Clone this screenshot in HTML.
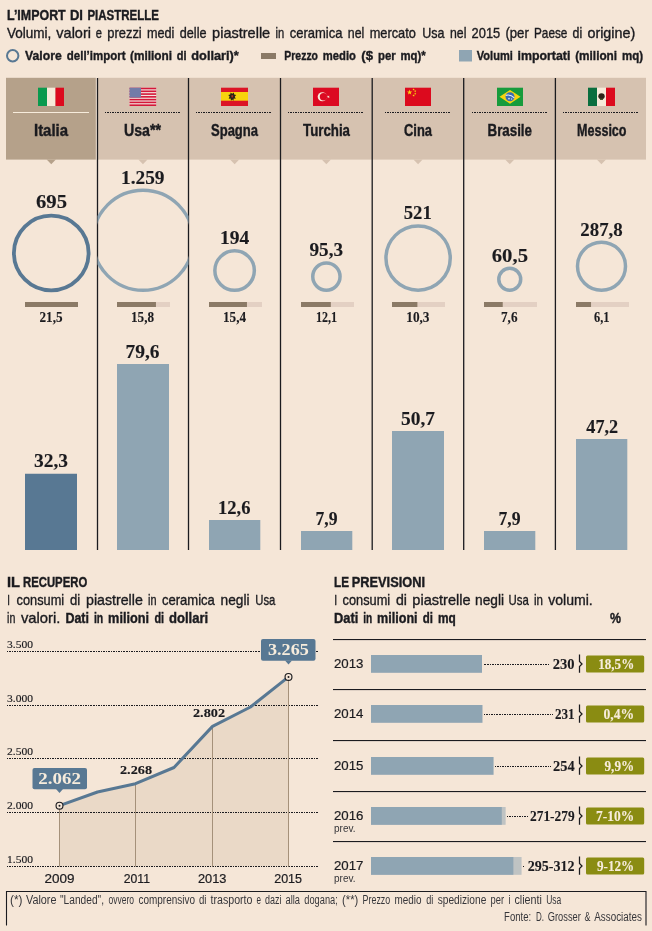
<!DOCTYPE html>
<html lang="it"><head><meta charset="utf-8"><title>L’import di piastrelle</title>
<style>
html,body{margin:0;padding:0;background:#f5e6d7;}
svg{display:block}
.sn{font-family:"Liberation Sans", Arial, sans-serif;font-weight:400}
.sb{font-family:"Liberation Sans", Arial, sans-serif;font-weight:700}
.rn{font-family:"Liberation Serif", "Times New Roman", serif;font-weight:400}
.rb{font-family:"Liberation Serif", "Times New Roman", serif;font-weight:700}
</style></head><body>
<svg width="652" height="931" viewBox="0 0 652 931">
<rect width="652" height="931" fill="#f5e6d7"/>
<text y="20.00" font-size="14.3" fill="#1b1b1f" stroke="#1b1b1f"><tspan class="sb" x="7.00" stroke-width="0.4" textLength="58.70" lengthAdjust="spacingAndGlyphs">L’IMPORT</tspan> <tspan class="sb" x="69.90" stroke-width="0.4" textLength="13.00" lengthAdjust="spacingAndGlyphs">DI</tspan> <tspan class="sb" x="87.40" stroke-width="0.4" textLength="71.60" lengthAdjust="spacingAndGlyphs">PIASTRELLE</tspan></text>
<text y="37.80" font-size="13.9" fill="#1b1b1f" stroke="#1b1b1f"><tspan class="sn" x="6.90" stroke-width="0.35" textLength="44.40" lengthAdjust="spacingAndGlyphs">Volumi,</tspan> <tspan class="sn" x="56.30" stroke-width="0.35" textLength="34.70" lengthAdjust="spacingAndGlyphs">valori</tspan> <tspan class="sn" x="95.80" stroke-width="0.35" textLength="6.20" lengthAdjust="spacingAndGlyphs">e</tspan> <tspan class="sn" x="107.30" stroke-width="0.35" textLength="34.40" lengthAdjust="spacingAndGlyphs">prezzi</tspan> <tspan class="sn" x="147.00" stroke-width="0.35" textLength="27.40" lengthAdjust="spacingAndGlyphs">medi</tspan> <tspan class="sn" x="179.80" stroke-width="0.35" textLength="26.70" lengthAdjust="spacingAndGlyphs">delle</tspan> <tspan class="sn" x="212.10" stroke-width="0.35" textLength="58.10" lengthAdjust="spacingAndGlyphs">piastrelle</tspan> <tspan class="sn" x="275.60" stroke-width="0.35" textLength="8.70" lengthAdjust="spacingAndGlyphs">in</tspan> <tspan class="sn" x="289.70" stroke-width="0.35" textLength="52.70" lengthAdjust="spacingAndGlyphs">ceramica</tspan> <tspan class="sn" x="347.80" stroke-width="0.35" textLength="16.50" lengthAdjust="spacingAndGlyphs">nel</tspan> <tspan class="sn" x="369.70" stroke-width="0.35" textLength="46.20" lengthAdjust="spacingAndGlyphs">mercato</tspan> <tspan class="sn" x="422.20" stroke-width="0.35" textLength="22.30" lengthAdjust="spacingAndGlyphs">Usa</tspan> <tspan class="sn" x="450.00" stroke-width="0.35" textLength="16.40" lengthAdjust="spacingAndGlyphs">nel</tspan> <tspan class="sn" x="471.60" stroke-width="0.35" textLength="28.60" lengthAdjust="spacingAndGlyphs">2015</tspan> <tspan class="sn" x="505.40" stroke-width="0.35" textLength="23.40" lengthAdjust="spacingAndGlyphs">(per</tspan> <tspan class="sn" x="534.00" stroke-width="0.35" textLength="33.40" lengthAdjust="spacingAndGlyphs">Paese</tspan> <tspan class="sn" x="572.60" stroke-width="0.35" textLength="9.60" lengthAdjust="spacingAndGlyphs">di</tspan> <tspan class="sn" x="587.40" stroke-width="0.35" textLength="47.90" lengthAdjust="spacingAndGlyphs">origine)</tspan></text>
<circle cx="12.7" cy="55.8" r="5.7" fill="none" stroke="#587893" stroke-width="2"/>
<text y="59.60" font-size="13.7" fill="#1b1b1f" stroke="#1b1b1f"><tspan class="sb" x="25.00" stroke-width="0.4" textLength="36.70" lengthAdjust="spacingAndGlyphs">Valore</tspan> <tspan class="sb" x="66.80" stroke-width="0.4" textLength="58.70" lengthAdjust="spacingAndGlyphs">dell’import</tspan> <tspan class="sb" x="130.00" stroke-width="0.4" textLength="42.00" lengthAdjust="spacingAndGlyphs">(milioni</tspan> <tspan class="sb" x="176.80" stroke-width="0.4" textLength="9.80" lengthAdjust="spacingAndGlyphs">di</tspan> <tspan class="sb" x="191.30" stroke-width="0.4" textLength="47.50" lengthAdjust="spacingAndGlyphs">dollari)*</tspan></text>
<rect x="261" y="53" width="15" height="6" fill="#8b7a66"/>
<text y="59.60" font-size="13.7" fill="#1b1b1f" stroke="#1b1b1f"><tspan class="sb" x="284.30" stroke-width="0.4" textLength="33.70" lengthAdjust="spacingAndGlyphs">Prezzo</tspan> <tspan class="sb" x="322.80" stroke-width="0.4" textLength="33.10" lengthAdjust="spacingAndGlyphs">medio</tspan> <tspan class="sb" x="361.30" stroke-width="0.4" textLength="11.70" lengthAdjust="spacingAndGlyphs">($</tspan> <tspan class="sb" x="378.00" stroke-width="0.4" textLength="17.70" lengthAdjust="spacingAndGlyphs">per</tspan> <tspan class="sb" x="400.40" stroke-width="0.4" textLength="25.20" lengthAdjust="spacingAndGlyphs">mq)*</tspan></text>
<rect x="459" y="50" width="13" height="11.5" fill="#8fa5b3"/>
<text y="59.60" font-size="13.7" fill="#1b1b1f" stroke="#1b1b1f"><tspan class="sb" x="476.80" stroke-width="0.4" textLength="36.00" lengthAdjust="spacingAndGlyphs">Volumi</tspan> <tspan class="sb" x="517.60" stroke-width="0.4" textLength="52.80" lengthAdjust="spacingAndGlyphs">importati</tspan> <tspan class="sb" x="575.20" stroke-width="0.4" textLength="41.90" lengthAdjust="spacingAndGlyphs">(milioni</tspan> <tspan class="sb" x="622.00" stroke-width="0.4" textLength="21.10" lengthAdjust="spacingAndGlyphs">mq)</tspan></text>
<rect x="98" y="77.8" width="548" height="81.8" fill="#d6c2b0"/>
<rect x="6" y="77.8" width="89.8" height="81.8" fill="#b5a18a"/>
<path d="M46.65 159.4 L55.85 159.4 L51.25 164.2 Z" fill="#b5a18a"/>
<path d="M138.35 159.4 L147.55 159.4 L142.95 164.2 Z" fill="#d6c2b0"/>
<path d="M230.05 159.4 L239.25 159.4 L234.65 164.2 Z" fill="#d6c2b0"/>
<path d="M321.75 159.4 L330.95 159.4 L326.35 164.2 Z" fill="#d6c2b0"/>
<path d="M413.45 159.4 L422.65 159.4 L418.05 164.2 Z" fill="#d6c2b0"/>
<path d="M505.15 159.4 L514.35 159.4 L509.75 164.2 Z" fill="#d6c2b0"/>
<path d="M596.85 159.4 L606.05 159.4 L601.45 164.2 Z" fill="#d6c2b0"/>
<rect x="96.85" y="78" width="1.3" height="472" fill="#1b1b1f"/>
<rect x="187.85" y="78" width="1.3" height="472" fill="#1b1b1f"/>
<rect x="279.85" y="78" width="1.3" height="472" fill="#1b1b1f"/>
<rect x="371.55" y="78" width="1.3" height="472" fill="#1b1b1f"/>
<rect x="463.05" y="78" width="1.3" height="472" fill="#1b1b1f"/>
<rect x="554.75" y="78" width="1.3" height="472" fill="#1b1b1f"/>
<rect x="13" y="112" width="76" height="1" fill="#f7ecdc"/>
<line x1="105" y1="112.5" x2="181" y2="112.5" stroke="#1b1b1f" stroke-width="1" stroke-dasharray="1 0.65" shape-rendering="crispEdges"/>
<line x1="196" y1="112.5" x2="272" y2="112.5" stroke="#1b1b1f" stroke-width="1" stroke-dasharray="1 0.65" shape-rendering="crispEdges"/>
<line x1="288" y1="112.5" x2="364" y2="112.5" stroke="#1b1b1f" stroke-width="1" stroke-dasharray="1 0.65" shape-rendering="crispEdges"/>
<line x1="385" y1="112.5" x2="451" y2="112.5" stroke="#1b1b1f" stroke-width="1" stroke-dasharray="1 0.65" shape-rendering="crispEdges"/>
<line x1="472" y1="112.5" x2="548" y2="112.5" stroke="#1b1b1f" stroke-width="1" stroke-dasharray="1 0.65" shape-rendering="crispEdges"/>
<line x1="563" y1="112.5" x2="639" y2="112.5" stroke="#1b1b1f" stroke-width="1" stroke-dasharray="1 0.65" shape-rendering="crispEdges"/>
<text class="sb" x="34.00" y="135.60" font-size="16" fill="#1b1b1f" stroke="#1b1b1f" stroke-width="0.4" textLength="34.00" lengthAdjust="spacingAndGlyphs">Italia</text>
<text class="sb" x="124.00" y="135.60" font-size="16" fill="#1b1b1f" stroke="#1b1b1f" stroke-width="0.4" textLength="37.00" lengthAdjust="spacingAndGlyphs">Usa**</text>
<text class="sb" x="211.00" y="135.60" font-size="16" fill="#1b1b1f" stroke="#1b1b1f" stroke-width="0.4" textLength="47.00" lengthAdjust="spacingAndGlyphs">Spagna</text>
<text class="sb" x="303.00" y="135.60" font-size="16" fill="#1b1b1f" stroke="#1b1b1f" stroke-width="0.4" textLength="47.00" lengthAdjust="spacingAndGlyphs">Turchia</text>
<text class="sb" x="404.00" y="135.60" font-size="16" fill="#1b1b1f" stroke="#1b1b1f" stroke-width="0.4" textLength="28.00" lengthAdjust="spacingAndGlyphs">Cina</text>
<text class="sb" x="487.50" y="135.60" font-size="16" fill="#1b1b1f" stroke="#1b1b1f" stroke-width="0.4" textLength="44.50" lengthAdjust="spacingAndGlyphs">Brasile</text>
<text class="sb" x="577.00" y="135.60" font-size="16" fill="#1b1b1f" stroke="#1b1b1f" stroke-width="0.4" textLength="49.50" lengthAdjust="spacingAndGlyphs">Messico</text>
<g><rect x="38" y="87.7" width="9" height="18.3" fill="#0a9a4e"/><rect x="47" y="87.7" width="8.5" height="18.3" fill="#f6ead9"/><rect x="55.5" y="87.7" width="8.5" height="18.3" fill="#dc0a1e"/></g>
<g><rect x="129.5" y="87.7" width="26.7" height="18.3" fill="#f3e6e0"/><rect x="129.5" y="87.70" width="26.7" height="1.62" fill="#d4183a"/><rect x="129.5" y="90.48" width="26.7" height="1.62" fill="#d4183a"/><rect x="129.5" y="93.26" width="26.7" height="1.62" fill="#d4183a"/><rect x="129.5" y="96.04" width="26.7" height="1.62" fill="#d4183a"/><rect x="129.5" y="98.82" width="26.7" height="1.62" fill="#d4183a"/><rect x="129.5" y="101.60" width="26.7" height="1.62" fill="#d4183a"/><rect x="129.5" y="104.38" width="26.7" height="1.62" fill="#d4183a"/><rect x="129.5" y="87.7" width="11.5" height="9.85" fill="#737ba8"/></g>
<g><rect x="221" y="87.7" width="27" height="18.3" fill="#dc1426"/><rect x="221" y="92" width="27" height="8.7" fill="#f7d40e"/><path d="M230.6 92.6 l1.6 1.2 l1.6 -1.2 l0.4 1.8 l2 0.6 l-1.4 1.6 l0.9 2.2 l-1.9 -0.2 l-0.4 2.2 l-1.2 -1.2 l-1.2 1.2 l-0.4 -2.2 l-1.9 0.2 l0.9 -2.2 l-1.4 -1.6 l2 -0.6 Z" fill="#2a2418"/><rect x="231.4" y="95.2" width="1.7" height="2.2" fill="#b03020"/></g>
<g><rect x="313" y="87.7" width="26" height="18.3" fill="#dc0a22"/><circle cx="322.3" cy="96.75" r="4.6" fill="#f7ecdc"/><circle cx="323.5" cy="96.75" r="3.7" fill="#dc0a22"/><path d="M326.6 96.75 l3.1 -1 l-1.9 2.6 v-3.2 l1.9 2.6 Z" fill="#f7ecdc"/></g>
<g><rect x="405" y="87.7" width="26" height="18.3" fill="#dc0a1e"/><polygon points="409.60,89.50 410.26,91.39 412.26,91.43 410.67,92.65 411.25,94.57 409.60,93.42 407.95,94.57 408.53,92.65 406.94,91.43 408.94,91.39" fill="#f7d40e"/><polygon points="413.60,88.15 413.89,89.00 414.79,89.01 414.08,89.55 414.33,90.41 413.60,89.90 412.87,90.41 413.12,89.55 412.41,89.01 413.31,89.00" fill="#f7d40e"/><polygon points="415.20,89.95 415.49,90.80 416.39,90.81 415.68,91.35 415.93,92.21 415.20,91.70 414.47,92.21 414.72,91.35 414.01,90.81 414.91,90.80" fill="#f7d40e"/><polygon points="415.20,92.45 415.49,93.30 416.39,93.31 415.68,93.85 415.93,94.71 415.20,94.20 414.47,94.71 414.72,93.85 414.01,93.31 414.91,93.30" fill="#f7d40e"/><polygon points="413.60,94.25 413.89,95.10 414.79,95.11 414.08,95.65 414.33,96.51 413.60,96.00 412.87,96.51 413.12,95.65 412.41,95.11 413.31,95.10" fill="#f7d40e"/></g>
<g><rect x="497" y="87.7" width="26" height="18.3" fill="#169b3c"/><path d="M499.5 96.75 L510 89.9 L520.5 96.75 L510 103.8 Z" fill="#f7d40e"/><circle cx="510" cy="96.75" r="4.5" fill="#3a6cb4"/><path d="M505.7 95.4 q4.6 -1.4 8.6 2.4" stroke="#e6ecf2" stroke-width="1.1" fill="none"/><circle cx="509" cy="98.6" r="0.9" fill="#cfdcec"/><circle cx="511.6" cy="99" r="0.7" fill="#cfdcec"/></g>
<g><rect x="588" y="87.7" width="9" height="18.3" fill="#0a6e3e"/><rect x="597" y="87.7" width="9" height="18.3" fill="#f6ead9"/><rect x="606" y="87.7" width="9" height="18.3" fill="#dc0a1e"/><ellipse cx="601.5" cy="96.2" rx="3.2" ry="3" fill="#2e2418"/><rect x="600" y="98.6" width="3" height="1.4" fill="#4a5a30"/></g>
<defs><clipPath id="c2"><rect x="97.5" y="160" width="91" height="160"/></clipPath></defs>
<circle cx="51.25" cy="253" r="37.35" fill="none" stroke="#587893" stroke-width="3.8"/>
<circle cx="143" cy="240.25" r="50.05" fill="none" stroke="#8fa5b3" stroke-width="3.4" clip-path="url(#c2)"/>
<circle cx="234.6" cy="270.6" r="19.75" fill="none" stroke="#8fa5b3" stroke-width="3.5"/>
<circle cx="326.4" cy="276.6" r="13.65" fill="none" stroke="#8fa5b3" stroke-width="3.5"/>
<circle cx="418.1" cy="258.1" r="32.15" fill="none" stroke="#8fa5b3" stroke-width="3.5"/>
<circle cx="509.75" cy="279.3" r="10.95" fill="none" stroke="#8fa5b3" stroke-width="3.5"/>
<circle cx="601.5" cy="266.25" r="24.00" fill="none" stroke="#8fa5b3" stroke-width="3.5"/>
<text class="rb" x="36.00" y="208.40" font-size="19" fill="#1b1b1f" stroke="#1b1b1f" stroke-width="0.12" textLength="31.00" lengthAdjust="spacingAndGlyphs">695</text>
<text class="rb" x="121.00" y="184.40" font-size="19" fill="#1b1b1f" stroke="#1b1b1f" stroke-width="0.12" textLength="43.50" lengthAdjust="spacingAndGlyphs">1.259</text>
<text class="rb" x="220.00" y="244.15" font-size="19" fill="#1b1b1f" stroke="#1b1b1f" stroke-width="0.12" textLength="29.25" lengthAdjust="spacingAndGlyphs">194</text>
<text class="rb" x="309.50" y="256.15" font-size="19" fill="#1b1b1f" stroke="#1b1b1f" stroke-width="0.12" textLength="33.50" lengthAdjust="spacingAndGlyphs">95,3</text>
<text class="rb" x="403.75" y="219.15" font-size="19" fill="#1b1b1f" stroke="#1b1b1f" stroke-width="0.12" textLength="28.00" lengthAdjust="spacingAndGlyphs">521</text>
<text class="rb" x="491.75" y="262.15" font-size="19" fill="#1b1b1f" stroke="#1b1b1f" stroke-width="0.12" textLength="36.25" lengthAdjust="spacingAndGlyphs">60,5</text>
<text class="rb" x="580.25" y="235.90" font-size="19" fill="#1b1b1f" stroke="#1b1b1f" stroke-width="0.12" textLength="42.50" lengthAdjust="spacingAndGlyphs">287,8</text>
<rect x="25" y="302" width="53" height="5" fill="#e3d0c3"/>
<rect x="25" y="302" width="53.00" height="5" fill="#8b7a66"/>
<rect x="117" y="302" width="53" height="5" fill="#e3d0c3"/>
<rect x="117" y="302" width="38.95" height="5" fill="#8b7a66"/>
<rect x="209" y="302" width="53" height="5" fill="#e3d0c3"/>
<rect x="209" y="302" width="37.96" height="5" fill="#8b7a66"/>
<rect x="301" y="302" width="53" height="5" fill="#e3d0c3"/>
<rect x="301" y="302" width="29.83" height="5" fill="#8b7a66"/>
<rect x="392" y="302" width="53" height="5" fill="#e3d0c3"/>
<rect x="392" y="302" width="25.39" height="5" fill="#8b7a66"/>
<rect x="484" y="302" width="53" height="5" fill="#e3d0c3"/>
<rect x="484" y="302" width="18.73" height="5" fill="#8b7a66"/>
<rect x="576" y="302" width="53" height="5" fill="#e3d0c3"/>
<rect x="576" y="302" width="15.04" height="5" fill="#8b7a66"/>
<text class="rb" x="39.50" y="321.70" font-size="14.2" fill="#1b1b1f" stroke="#1b1b1f" stroke-width="0.12" textLength="23.00" lengthAdjust="spacingAndGlyphs">21,5</text>
<text class="rb" x="131.00" y="321.70" font-size="14.2" fill="#1b1b1f" stroke="#1b1b1f" stroke-width="0.12" textLength="23.00" lengthAdjust="spacingAndGlyphs">15,8</text>
<text class="rb" x="223.00" y="321.70" font-size="14.2" fill="#1b1b1f" stroke="#1b1b1f" stroke-width="0.12" textLength="23.00" lengthAdjust="spacingAndGlyphs">15,4</text>
<text class="rb" x="316.00" y="321.70" font-size="14.2" fill="#1b1b1f" stroke="#1b1b1f" stroke-width="0.12" textLength="21.00" lengthAdjust="spacingAndGlyphs">12,1</text>
<text class="rb" x="406.25" y="321.70" font-size="14.2" fill="#1b1b1f" stroke="#1b1b1f" stroke-width="0.12" textLength="23.25" lengthAdjust="spacingAndGlyphs">10,3</text>
<text class="rb" x="501.00" y="321.70" font-size="14.2" fill="#1b1b1f" stroke="#1b1b1f" stroke-width="0.12" textLength="16.50" lengthAdjust="spacingAndGlyphs">7,6</text>
<text class="rb" x="594.00" y="321.70" font-size="14.2" fill="#1b1b1f" stroke="#1b1b1f" stroke-width="0.12" textLength="15.50" lengthAdjust="spacingAndGlyphs">6,1</text>
<rect x="25" y="473.75" width="52" height="76.25" fill="#587893"/>
<rect x="117" y="364" width="52" height="186" fill="#8fa5b3"/>
<rect x="209" y="520" width="51.3" height="30" fill="#8fa5b3"/>
<rect x="301" y="531" width="51.3" height="19" fill="#8fa5b3"/>
<rect x="392" y="431" width="52" height="119" fill="#8fa5b3"/>
<rect x="484" y="531" width="51.3" height="19" fill="#8fa5b3"/>
<rect x="576" y="439" width="51.3" height="111" fill="#8fa5b3"/>
<text class="rb" x="34.00" y="467.40" font-size="19" fill="#1b1b1f" stroke="#1b1b1f" stroke-width="0.12" textLength="34.00" lengthAdjust="spacingAndGlyphs">32,3</text>
<text class="rb" x="125.50" y="357.90" font-size="19" fill="#1b1b1f" stroke="#1b1b1f" stroke-width="0.12" textLength="34.00" lengthAdjust="spacingAndGlyphs">79,6</text>
<text class="rb" x="218.00" y="514.15" font-size="19" fill="#1b1b1f" stroke="#1b1b1f" stroke-width="0.12" textLength="32.50" lengthAdjust="spacingAndGlyphs">12,6</text>
<text class="rb" x="315.50" y="524.65" font-size="19" fill="#1b1b1f" stroke="#1b1b1f" stroke-width="0.12" textLength="22.00" lengthAdjust="spacingAndGlyphs">7,9</text>
<text class="rb" x="401.00" y="425.40" font-size="19" fill="#1b1b1f" stroke="#1b1b1f" stroke-width="0.12" textLength="34.00" lengthAdjust="spacingAndGlyphs">50,7</text>
<text class="rb" x="498.50" y="524.90" font-size="19" fill="#1b1b1f" stroke="#1b1b1f" stroke-width="0.12" textLength="22.10" lengthAdjust="spacingAndGlyphs">7,9</text>
<text class="rb" x="586.30" y="433.40" font-size="19" fill="#1b1b1f" stroke="#1b1b1f" stroke-width="0.12" textLength="31.90" lengthAdjust="spacingAndGlyphs">47,2</text>
<text y="586.50" font-size="14.3" fill="#1b1b1f" stroke="#1b1b1f"><tspan class="sb" x="7.00" stroke-width="0.4" textLength="13.00" lengthAdjust="spacingAndGlyphs">IL</tspan> <tspan class="sb" x="23.00" stroke-width="0.4" textLength="64.20" lengthAdjust="spacingAndGlyphs">RECUPERO</tspan></text>
<text y="605.00" font-size="14.3" fill="#1b1b1f" stroke="#1b1b1f"><tspan class="sn" x="7.30" stroke-width="0.35" textLength="2.70" lengthAdjust="spacingAndGlyphs">I</tspan> <tspan class="sn" x="16.60" stroke-width="0.35" textLength="47.60" lengthAdjust="spacingAndGlyphs">consumi</tspan> <tspan class="sn" x="70.00" stroke-width="0.35" textLength="10.20" lengthAdjust="spacingAndGlyphs">di</tspan> <tspan class="sn" x="86.00" stroke-width="0.35" textLength="56.80" lengthAdjust="spacingAndGlyphs">piastrelle</tspan> <tspan class="sn" x="148.10" stroke-width="0.35" textLength="8.50" lengthAdjust="spacingAndGlyphs">in</tspan> <tspan class="sn" x="161.90" stroke-width="0.35" textLength="53.00" lengthAdjust="spacingAndGlyphs">ceramica</tspan> <tspan class="sn" x="220.60" stroke-width="0.35" textLength="29.00" lengthAdjust="spacingAndGlyphs">negli</tspan> <tspan class="sn" x="255.30" stroke-width="0.35" textLength="20.10" lengthAdjust="spacingAndGlyphs">Usa</tspan></text>
<text y="622.50" font-size="14.3" fill="#1b1b1f" stroke="#1b1b1f"><tspan class="sn" x="7.10" stroke-width="0.35" textLength="8.30" lengthAdjust="spacingAndGlyphs">in</tspan> <tspan class="sn" x="20.90" stroke-width="0.35" textLength="39.50" lengthAdjust="spacingAndGlyphs">valori.</tspan> <tspan class="sb" x="65.40" stroke-width="0.4" textLength="23.60" lengthAdjust="spacingAndGlyphs">Dati</tspan> <tspan class="sb" x="93.90" stroke-width="0.4" textLength="9.30" lengthAdjust="spacingAndGlyphs">in</tspan> <tspan class="sb" x="108.10" stroke-width="0.4" textLength="40.90" lengthAdjust="spacingAndGlyphs">milioni</tspan> <tspan class="sb" x="154.40" stroke-width="0.4" textLength="9.70" lengthAdjust="spacingAndGlyphs">di</tspan> <tspan class="sb" x="169.00" stroke-width="0.4" textLength="39.20" lengthAdjust="spacingAndGlyphs">dollari</tspan></text>
<path d="M59.50 805.70 L97.50 792.00 L135.50 783.70 L174.00 767.50 L212.50 726.40 L250.50 707.00 L288.50 676.90 L288.5 866.6 L59.5 866.6 Z" fill="#ead9c7"/>
<line x1="7" y1="651.4" x2="319" y2="651.4" stroke="#1b1b1f" stroke-width="1" stroke-dasharray="1 0.65" shape-rendering="crispEdges"/>
<text class="rn" x="7.00" y="648.20" font-size="10.5" fill="#1b1b1f" stroke="#1b1b1f" stroke-width="0.15" textLength="26.00" lengthAdjust="spacingAndGlyphs">3.500</text>
<line x1="7" y1="705.4" x2="319" y2="705.4" stroke="#1b1b1f" stroke-width="1" stroke-dasharray="1 0.65" shape-rendering="crispEdges"/>
<text class="rn" x="7.00" y="702.20" font-size="10.5" fill="#1b1b1f" stroke="#1b1b1f" stroke-width="0.15" textLength="26.00" lengthAdjust="spacingAndGlyphs">3.000</text>
<line x1="7" y1="758.4" x2="319" y2="758.4" stroke="#1b1b1f" stroke-width="1" stroke-dasharray="1 0.65" shape-rendering="crispEdges"/>
<text class="rn" x="7.00" y="755.20" font-size="10.5" fill="#1b1b1f" stroke="#1b1b1f" stroke-width="0.15" textLength="26.00" lengthAdjust="spacingAndGlyphs">2.500</text>
<line x1="7" y1="812.5" x2="319" y2="812.5" stroke="#1b1b1f" stroke-width="1" stroke-dasharray="1 0.65" shape-rendering="crispEdges"/>
<text class="rn" x="7.00" y="809.30" font-size="10.5" fill="#1b1b1f" stroke="#1b1b1f" stroke-width="0.15" textLength="26.00" lengthAdjust="spacingAndGlyphs">2.000</text>
<line x1="7" y1="866.6" x2="319" y2="866.6" stroke="#1b1b1f" stroke-width="1" stroke-dasharray="1 0.65" shape-rendering="crispEdges"/>
<text class="rn" x="7.00" y="863.40" font-size="10.5" fill="#1b1b1f" stroke="#1b1b1f" stroke-width="0.15" textLength="26.00" lengthAdjust="spacingAndGlyphs">1.500</text>
<line x1="59.5" y1="805.70" x2="59.5" y2="866.6" stroke="#a5917a" stroke-width="1"/>
<line x1="135.5" y1="783.70" x2="135.5" y2="866.6" stroke="#a5917a" stroke-width="1"/>
<line x1="212.5" y1="726.40" x2="212.5" y2="866.6" stroke="#a5917a" stroke-width="1"/>
<line x1="288.5" y1="676.90" x2="288.5" y2="866.6" stroke="#a5917a" stroke-width="1"/>
<path d="M59.50 805.70 L97.50 792.00 L135.50 783.70 L174.00 767.50 L212.50 726.40 L250.50 707.00 L288.50 676.90" fill="none" stroke="#587893" stroke-width="3" stroke-linejoin="round"/>
<circle cx="59.5" cy="805.70" r="3.45" fill="#f5e6d7" stroke="#1b1b1f" stroke-width="1.15"/><circle cx="59.5" cy="805.70" r="1" fill="#1b1b1f"/>
<circle cx="288.5" cy="676.90" r="3.45" fill="#f5e6d7" stroke="#1b1b1f" stroke-width="1.15"/><circle cx="288.5" cy="676.90" r="1" fill="#1b1b1f"/>
<rect x="261" y="639" width="54.5" height="21.8" rx="2" fill="#587893"/><path d="M285 660.5 L292 660.5 L288.5 664.4 Z" fill="#587893"/>
<text class="rb" x="268.00" y="654.70" font-size="17.6" fill="#f7ecdc" stroke="#f7ecdc" stroke-width="0" textLength="40.75" lengthAdjust="spacingAndGlyphs">3.265</text>
<rect x="32.5" y="768" width="54.5" height="21.2" rx="2" fill="#587893"/><path d="M56 789 L63 789 L59.5 793 Z" fill="#587893"/>
<text class="rb" x="38.30" y="783.80" font-size="17.6" fill="#f7ecdc" stroke="#f7ecdc" stroke-width="0" textLength="42.70" lengthAdjust="spacingAndGlyphs">2.062</text>
<text class="rb" x="120.00" y="773.75" font-size="12.5" fill="#1b1b1f" stroke="#1b1b1f" stroke-width="0.12" textLength="32.00" lengthAdjust="spacingAndGlyphs">2.268</text>
<text class="rb" x="193.00" y="717.00" font-size="12.5" fill="#1b1b1f" stroke="#1b1b1f" stroke-width="0.12" textLength="32.00" lengthAdjust="spacingAndGlyphs">2.802</text>
<text class="sn" x="44.50" y="883.25" font-size="12.5" fill="#1b1b1f" stroke="#1b1b1f" stroke-width="0.2" textLength="30.00" lengthAdjust="spacingAndGlyphs">2009</text>
<text class="sn" x="123.75" y="883.25" font-size="12.5" fill="#1b1b1f" stroke="#1b1b1f" stroke-width="0.2" textLength="26.25" lengthAdjust="spacingAndGlyphs">2011</text>
<text class="sn" x="198.00" y="883.25" font-size="12.5" fill="#1b1b1f" stroke="#1b1b1f" stroke-width="0.2" textLength="28.50" lengthAdjust="spacingAndGlyphs">2013</text>
<text class="sn" x="274.20" y="883.25" font-size="12.5" fill="#1b1b1f" stroke="#1b1b1f" stroke-width="0.2" textLength="27.80" lengthAdjust="spacingAndGlyphs">2015</text>
<text y="586.50" font-size="14.3" fill="#1b1b1f" stroke="#1b1b1f"><tspan class="sb" x="334.00" stroke-width="0.4" textLength="15.00" lengthAdjust="spacingAndGlyphs">LE</tspan> <tspan class="sb" x="351.75" stroke-width="0.4" textLength="73.25" lengthAdjust="spacingAndGlyphs">PREVISIONI</tspan></text>
<text y="605.00" font-size="14.3" fill="#1b1b1f" stroke="#1b1b1f"><tspan class="sn" x="334.30" stroke-width="0.35" textLength="2.90" lengthAdjust="spacingAndGlyphs">I</tspan> <tspan class="sn" x="342.60" stroke-width="0.35" textLength="47.60" lengthAdjust="spacingAndGlyphs">consumi</tspan> <tspan class="sn" x="396.00" stroke-width="0.35" textLength="11.00" lengthAdjust="spacingAndGlyphs">di</tspan> <tspan class="sn" x="412.30" stroke-width="0.35" textLength="58.30" lengthAdjust="spacingAndGlyphs">piastrelle</tspan> <tspan class="sn" x="475.00" stroke-width="0.35" textLength="29.00" lengthAdjust="spacingAndGlyphs">negli</tspan> <tspan class="sn" x="508.50" stroke-width="0.35" textLength="20.30" lengthAdjust="spacingAndGlyphs">Usa</tspan> <tspan class="sn" x="534.00" stroke-width="0.35" textLength="9.00" lengthAdjust="spacingAndGlyphs">in</tspan> <tspan class="sn" x="548.20" stroke-width="0.35" textLength="44.60" lengthAdjust="spacingAndGlyphs">volumi.</tspan></text>
<text y="622.50" font-size="14.3" fill="#1b1b1f" stroke="#1b1b1f"><tspan class="sb" x="334.00" stroke-width="0.4" textLength="24.30" lengthAdjust="spacingAndGlyphs">Dati</tspan> <tspan class="sb" x="363.30" stroke-width="0.4" textLength="9.00" lengthAdjust="spacingAndGlyphs">in</tspan> <tspan class="sb" x="377.10" stroke-width="0.4" textLength="40.50" lengthAdjust="spacingAndGlyphs">milioni</tspan> <tspan class="sb" x="422.80" stroke-width="0.4" textLength="10.20" lengthAdjust="spacingAndGlyphs">di</tspan> <tspan class="sb" x="438.00" stroke-width="0.4" textLength="17.80" lengthAdjust="spacingAndGlyphs">mq</tspan></text>
<text class="sb" x="610.00" y="622.50" font-size="14.3" fill="#1b1b1f" stroke="#1b1b1f" stroke-width="0.4" textLength="11.00" lengthAdjust="spacingAndGlyphs">%</text>
<rect x="333" y="639" width="313" height="1.1" fill="#1b1b1f"/>
<rect x="333" y="689" width="313" height="1.1" fill="#1b1b1f"/>
<rect x="333" y="740" width="313" height="1.1" fill="#1b1b1f"/>
<rect x="333" y="791" width="313" height="1.1" fill="#1b1b1f"/>
<rect x="333" y="841" width="313" height="1.1" fill="#1b1b1f"/>
<text class="sn" x="334.00" y="668.40" font-size="13.5" fill="#1b1b1f" stroke="#1b1b1f" stroke-width="0.2" textLength="29.50" lengthAdjust="spacingAndGlyphs">2013</text>
<rect x="371" y="655" width="111.00" height="17.8" fill="#8fa5b3"/>
<line x1="483.50" y1="664.25" x2="550.25" y2="664.25" stroke="#1b1b1f" stroke-width="1" stroke-dasharray="1 0.65" shape-rendering="crispEdges"/>
<text class="rb" x="552.75" y="668.75" font-size="15" fill="#1b1b1f" stroke="#1b1b1f" stroke-width="0.12" textLength="21.85" lengthAdjust="spacingAndGlyphs">230</text>
<path d="M579.5 654.5 V661.5 L582 664 L579.5 666.5 V672.8" fill="none" stroke="#1b1b1f" stroke-width="1.25"/>
<rect x="586" y="655.5" width="58.2" height="17" rx="1.5" fill="#8a8c12"/>
<text class="rb" x="598.25" y="668.75" font-size="15" fill="#f7ecdc" stroke="#f7ecdc" stroke-width="0.12" textLength="35.95" lengthAdjust="spacingAndGlyphs">18,5%</text>
<text class="sn" x="334.00" y="718.40" font-size="13.5" fill="#1b1b1f" stroke="#1b1b1f" stroke-width="0.2" textLength="29.50" lengthAdjust="spacingAndGlyphs">2014</text>
<rect x="371" y="705" width="111.48" height="17.8" fill="#8fa5b3"/>
<line x1="483.98" y1="714.25" x2="552.50" y2="714.25" stroke="#1b1b1f" stroke-width="1" stroke-dasharray="1 0.65" shape-rendering="crispEdges"/>
<text class="rb" x="555.00" y="718.75" font-size="15" fill="#1b1b1f" stroke="#1b1b1f" stroke-width="0.12" textLength="19.60" lengthAdjust="spacingAndGlyphs">231</text>
<path d="M579.5 704.5 V711.5 L582 714 L579.5 716.5 V722.8" fill="none" stroke="#1b1b1f" stroke-width="1.25"/>
<rect x="586" y="705.5" width="58.2" height="17" rx="1.5" fill="#8a8c12"/>
<text class="rb" x="603.40" y="718.75" font-size="15" fill="#f7ecdc" stroke="#f7ecdc" stroke-width="0.12" textLength="30.80" lengthAdjust="spacingAndGlyphs">0,4%</text>
<text class="sn" x="334.00" y="770.40" font-size="13.5" fill="#1b1b1f" stroke="#1b1b1f" stroke-width="0.2" textLength="29.50" lengthAdjust="spacingAndGlyphs">2015</text>
<rect x="371" y="757" width="122.58" height="17.8" fill="#8fa5b3"/>
<line x1="495.08" y1="766.25" x2="550.50" y2="766.25" stroke="#1b1b1f" stroke-width="1" stroke-dasharray="1 0.65" shape-rendering="crispEdges"/>
<text class="rb" x="553.00" y="770.75" font-size="15" fill="#1b1b1f" stroke="#1b1b1f" stroke-width="0.12" textLength="21.60" lengthAdjust="spacingAndGlyphs">254</text>
<path d="M579.5 756.5 V763.5 L582 766 L579.5 768.5 V774.8" fill="none" stroke="#1b1b1f" stroke-width="1.25"/>
<rect x="586" y="757.5" width="58.2" height="17" rx="1.5" fill="#8a8c12"/>
<text class="rb" x="604.50" y="770.75" font-size="15" fill="#f7ecdc" stroke="#f7ecdc" stroke-width="0.12" textLength="29.70" lengthAdjust="spacingAndGlyphs">9,9%</text>
<text class="sn" x="334.00" y="820.40" font-size="13.5" fill="#1b1b1f" stroke="#1b1b1f" stroke-width="0.2" textLength="29.50" lengthAdjust="spacingAndGlyphs">2016</text>
<text class="sn" x="334.00" y="831.80" font-size="10.5" fill="#36363a" stroke="#36363a" stroke-width="0" textLength="21.50" lengthAdjust="spacingAndGlyphs">prev.</text>
<rect x="371" y="807" width="134.65" height="17.8" fill="#bfc3c3"/>
<rect x="371" y="807" width="130.79" height="17.8" fill="#8fa5b3"/>
<line x1="507.15" y1="816.25" x2="527.50" y2="816.25" stroke="#1b1b1f" stroke-width="1" stroke-dasharray="1 0.65" shape-rendering="crispEdges"/>
<text class="rb" x="530.00" y="820.75" font-size="15" fill="#1b1b1f" stroke="#1b1b1f" stroke-width="0.12" textLength="44.60" lengthAdjust="spacingAndGlyphs">271-279</text>
<path d="M579.5 806.5 V813.5 L582 816 L579.5 818.5 V824.8" fill="none" stroke="#1b1b1f" stroke-width="1.25"/>
<rect x="586" y="807.5" width="58.2" height="17" rx="1.5" fill="#8a8c12"/>
<text class="rb" x="596.00" y="820.75" font-size="15" fill="#f7ecdc" stroke="#f7ecdc" stroke-width="0.12" textLength="38.20" lengthAdjust="spacingAndGlyphs">7-10%</text>
<text class="sn" x="334.00" y="870.40" font-size="13.5" fill="#1b1b1f" stroke="#1b1b1f" stroke-width="0.2" textLength="29.50" lengthAdjust="spacingAndGlyphs">2017</text>
<text class="sn" x="334.00" y="881.80" font-size="10.5" fill="#36363a" stroke="#36363a" stroke-width="0" textLength="21.50" lengthAdjust="spacingAndGlyphs">prev.</text>
<rect x="371" y="857" width="150.57" height="17.8" fill="#bfc3c3"/>
<rect x="371" y="857" width="142.37" height="17.8" fill="#8fa5b3"/>
<line x1="523.07" y1="866.25" x2="525.30" y2="866.25" stroke="#1b1b1f" stroke-width="1" stroke-dasharray="1 0.65" shape-rendering="crispEdges"/>
<text class="rb" x="527.80" y="870.75" font-size="15" fill="#1b1b1f" stroke="#1b1b1f" stroke-width="0.12" textLength="46.80" lengthAdjust="spacingAndGlyphs">295-312</text>
<path d="M579.5 856.5 V863.5 L582 866 L579.5 868.5 V874.8" fill="none" stroke="#1b1b1f" stroke-width="1.25"/>
<rect x="586" y="857.5" width="58.2" height="17" rx="1.5" fill="#8a8c12"/>
<text class="rb" x="597.00" y="870.75" font-size="15" fill="#f7ecdc" stroke="#f7ecdc" stroke-width="0.12" textLength="37.20" lengthAdjust="spacingAndGlyphs">9-12%</text>
<path d="M6.5 925.5 V891.5 H646 V925.5" fill="none" stroke="#1b1b1f" stroke-width="1.1"/>
<text y="903.75" font-size="12" fill="#36363a" stroke="#36363a"><tspan class="sn" x="10.00" stroke-width="0" textLength="12.50" lengthAdjust="spacingAndGlyphs">(*)</tspan> <tspan class="sn" x="26.00" stroke-width="0" textLength="30.50" lengthAdjust="spacingAndGlyphs">Valore</tspan> <tspan class="sn" x="60.00" stroke-width="0" textLength="44.00" lengthAdjust="spacingAndGlyphs">"Landed",</tspan> <tspan class="sn" x="108.50" stroke-width="0" textLength="25.50" lengthAdjust="spacingAndGlyphs">ovvero</tspan> <tspan class="sn" x="138.50" stroke-width="0" textLength="56.50" lengthAdjust="spacingAndGlyphs">comprensivo</tspan> <tspan class="sn" x="199.00" stroke-width="0" textLength="7.50" lengthAdjust="spacingAndGlyphs">di</tspan> <tspan class="sn" x="210.50" stroke-width="0" textLength="42.00" lengthAdjust="spacingAndGlyphs">trasporto</tspan> <tspan class="sn" x="256.50" stroke-width="0" textLength="4.50" lengthAdjust="spacingAndGlyphs">e</tspan> <tspan class="sn" x="265.00" stroke-width="0" textLength="16.50" lengthAdjust="spacingAndGlyphs">dazi</tspan> <tspan class="sn" x="285.50" stroke-width="0" textLength="14.50" lengthAdjust="spacingAndGlyphs">alla</tspan> <tspan class="sn" x="304.30" stroke-width="0" textLength="33.50" lengthAdjust="spacingAndGlyphs">dogana;</tspan> <tspan class="sn" x="342.10" stroke-width="0" textLength="16.20" lengthAdjust="spacingAndGlyphs">(**)</tspan> <tspan class="sn" x="362.60" stroke-width="0" textLength="27.60" lengthAdjust="spacingAndGlyphs">Prezzo</tspan> <tspan class="sn" x="394.50" stroke-width="0" textLength="27.00" lengthAdjust="spacingAndGlyphs">medio</tspan> <tspan class="sn" x="426.30" stroke-width="0" textLength="7.10" lengthAdjust="spacingAndGlyphs">di</tspan> <tspan class="sn" x="437.70" stroke-width="0" textLength="48.60" lengthAdjust="spacingAndGlyphs">spedizione</tspan> <tspan class="sn" x="490.60" stroke-width="0" textLength="13.50" lengthAdjust="spacingAndGlyphs">per</tspan> <tspan class="sn" x="508.60" stroke-width="0" textLength="2.00" lengthAdjust="spacingAndGlyphs">i</tspan> <tspan class="sn" x="514.40" stroke-width="0" textLength="27.50" lengthAdjust="spacingAndGlyphs">clienti</tspan> <tspan class="sn" x="546.20" stroke-width="0" textLength="15.10" lengthAdjust="spacingAndGlyphs">Usa</tspan></text>
<text y="920.75" font-size="12" fill="#36363a" stroke="#36363a"><tspan class="sn" x="504.10" stroke-width="0" textLength="27.00" lengthAdjust="spacingAndGlyphs">Fonte:</tspan> <tspan class="sn" x="536.00" stroke-width="0" textLength="8.00" lengthAdjust="spacingAndGlyphs">D.</tspan> <tspan class="sn" x="547.80" stroke-width="0" textLength="33.00" lengthAdjust="spacingAndGlyphs">Grosser</tspan> <tspan class="sn" x="584.60" stroke-width="0" textLength="5.90" lengthAdjust="spacingAndGlyphs">&amp;</tspan> <tspan class="sn" x="594.30" stroke-width="0" textLength="47.50" lengthAdjust="spacingAndGlyphs">Associates</tspan></text>
</svg></body></html>
